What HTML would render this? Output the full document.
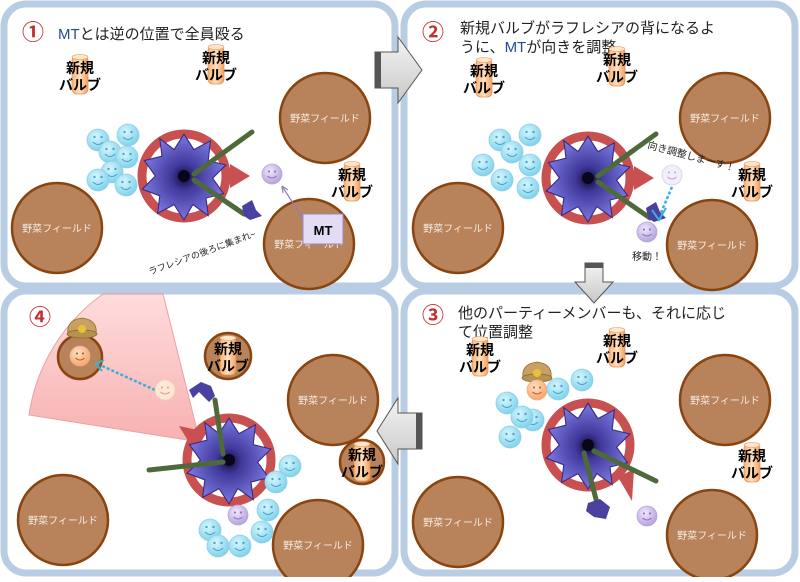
<!DOCTYPE html>
<html><head><meta charset="utf-8"><style>
html,body{margin:0;padding:0;background:#fff;}
svg text{font-family:"Liberation Sans","Noto Sans CJK JP",sans-serif;}
</style></head><body>
<svg width="800" height="577" viewBox="0 0 800 577" xmlns="http://www.w3.org/2000/svg">
<defs>
<radialGradient id="fl" cx="50%" cy="50%" r="50%"><stop offset="0" stop-color="#0c0a30"/><stop offset="0.3" stop-color="#40389a"/><stop offset="1" stop-color="#7a78e0"/></radialGradient>
<radialGradient id="bs" cx="40%" cy="35%" r="65%"><stop offset="0" stop-color="#d8f6ff"/><stop offset="1" stop-color="#7fd2ec"/></radialGradient>
<radialGradient id="ps" cx="40%" cy="35%" r="65%"><stop offset="0" stop-color="#f0e8ff"/><stop offset="1" stop-color="#b7a2dc"/></radialGradient>
<radialGradient id="os" cx="40%" cy="35%" r="65%"><stop offset="0" stop-color="#ffe2c8"/><stop offset="1" stop-color="#f7a56c"/></radialGradient>
<linearGradient id="cy" x1="0" x2="1"><stop offset="0" stop-color="#f8b47a"/><stop offset="0.5" stop-color="#ffe0c0"/><stop offset="1" stop-color="#f3a060"/></linearGradient>
<linearGradient id="ar" x1="0" y1="0" x2="0" y2="1"><stop offset="0" stop-color="#f4f4f4"/><stop offset="1" stop-color="#c8c8c8"/></linearGradient>
<linearGradient id="pk" x1="0" y1="0" x2="0" y2="1"><stop offset="0" stop-color="#ffd6d6"/><stop offset="1" stop-color="#f7a4a4"/></linearGradient>
<g id="blue"><circle r="11" fill="url(#bs)" stroke="#8fd0e6" stroke-width="0.8"/><circle cx="-3.5" cy="-3" r="1.2" fill="#4aa6c4"/><circle cx="3.5" cy="-3" r="1.2" fill="#4aa6c4"/><path d="M-5 2 Q0 7 5 2" stroke="#4aa6c4" stroke-width="1.1" fill="none"/></g>
<g id="purp"><circle r="10" fill="url(#ps)" stroke="#b8a6da" stroke-width="0.8"/><circle cx="-3" cy="-2.5" r="1.1" fill="#8a74b8"/><circle cx="3" cy="-2.5" r="1.1" fill="#8a74b8"/><path d="M-4.5 2 Q0 6 4.5 2" stroke="#8a74b8" stroke-width="1" fill="none"/></g>
<g id="lpurp"><circle r="10" fill="#f2eefa" stroke="#d8d0ea" stroke-width="0.8"/><circle cx="-3" cy="-2.5" r="1" fill="#b8a8d8"/><circle cx="3" cy="-2.5" r="1" fill="#b8a8d8"/><path d="M-4.5 2 Q0 6 4.5 2" stroke="#b8a8d8" stroke-width="1" fill="none"/></g>
<g id="orng"><circle r="10" fill="url(#os)" stroke="#f0b080" stroke-width="0.8"/><circle cx="-3" cy="-2.5" r="1.1" fill="#c0602a"/><circle cx="3" cy="-2.5" r="1.1" fill="#c0602a"/><path d="M-4.5 2 Q0 6 4.5 2" stroke="#c0602a" stroke-width="1" fill="none"/></g>
<g id="peach"><circle r="10" fill="#fde8d8" stroke="#f2cfb4" stroke-width="0.8"/><circle cx="-3" cy="-2.5" r="1" fill="#d8a080"/><circle cx="3" cy="-2.5" r="1" fill="#d8a080"/><path d="M-4.5 2 Q0 6 4.5 2" stroke="#d8a080" stroke-width="1" fill="none"/></g>
<g id="field"><circle r="45" fill="#b8825a" stroke="#8a4410" stroke-width="2.5"/><text y="4" text-anchor="middle" font-size="10" fill="#f4ece4">野菜フィールド</text></g>
<g id="bulb"><rect x="-8" y="-19" width="16" height="38" rx="5" fill="url(#cy)" stroke="#e89050" stroke-width="0.8"/><ellipse cx="0" cy="-18" rx="8" ry="2.5" fill="#ffe6cc" stroke="#e89050" stroke-width="0.6"/><text y="-2" text-anchor="middle" font-size="14" font-weight="bold" fill="#000">新規</text><text y="15" text-anchor="middle" font-size="14" font-weight="bold" fill="#000">バルブ</text></g>
<g id="flower"><polygon transform="scale(1.1)" points="0,-38 9,-24 24,-32 22,-14 38,-10 26,2 36,16 20,20 22,36 8,26 0,40 -9,26 -24,34 -22,18 -38,12 -26,0 -36,-14 -20,-18 -22,-34 -9,-24" fill="url(#fl)" stroke="#3a2a80" stroke-width="1"/><circle r="6" fill="#08061a"/></g>
<g id="shell"><path d="M-14 4 Q-16 -10 0 -12 Q16 -10 14 4 Z" fill="#c8a060" stroke="#8a6a30" stroke-width="0.8"/><ellipse cx="0" cy="4" rx="15" ry="4" fill="#b89050" stroke="#8a6a30" stroke-width="0.8"/><circle cy="-1" r="4" fill="#e8c040"/></g>
</defs>

<rect x="4" y="4" width="391" height="282" rx="22" fill="#fff" stroke="#b8cde4" stroke-width="7"/>
<rect x="404" y="4" width="391" height="282" rx="22" fill="#fff" stroke="#b8cde4" stroke-width="7"/>
<rect x="4" y="291" width="391" height="282" rx="22" fill="#fff" stroke="#b8cde4" stroke-width="7"/>
<rect x="404" y="291" width="391" height="282" rx="22" fill="#fff" stroke="#b8cde4" stroke-width="7"/>

<!-- Panel 1 -->
<text x="33" y="40" text-anchor="middle" font-size="22" font-weight="bold" fill="#c03030">①</text>
<text x="58" y="39" font-size="15" fill="#222"><tspan fill="#1f4e8c">MT</tspan>とは逆の位置で全員殴る</text>
<use href="#bulb" x="80" y="75"/>
<use href="#bulb" x="216" y="65"/>
<use href="#bulb" x="352" y="182"/>
<use href="#field" x="325" y="118"/>
<use href="#field" x="57" y="228"/>
<use href="#field" x="309" y="244"/>
<g transform="translate(184,176)">
<path d="M46 -12 L66 0 L46 12 Z" fill="#c85050"/>
<circle r="42" fill="none" stroke="#c85050" stroke-width="9"/>
<use href="#flower"/>
<path d="M10 -2 L68 -44" stroke="#4e6a3c" stroke-width="5" stroke-linecap="round"/>
<path d="M10 4 L60 38" stroke="#4e6a3c" stroke-width="5" stroke-linecap="round"/>
<polygon points="58,30 68,24 72,34 78,40 66,44 60,40" fill="#4a40a0"/>
</g>
<use href="#blue" x="98" y="140"/><use href="#blue" x="128" y="135"/><use href="#blue" x="110" y="152"/>
<use href="#blue" x="127" y="157"/><use href="#blue" x="112" y="172"/><use href="#blue" x="98" y="180"/><use href="#blue" x="126" y="185"/>
<use href="#purp" x="272" y="174"/>
<line x1="305" y1="222" x2="282" y2="186" stroke="#9080b8" stroke-width="1.2"/>
<path d="M282 186 L283 193 M282 186 L288 190" stroke="#9080b8" stroke-width="1.2"/>
<rect x="303" y="214" width="40" height="30" fill="#e4dcf4" stroke="#9a88c4" stroke-width="1"/>
<text x="323" y="235" text-anchor="middle" font-size="13" font-weight="bold" fill="#000">MT</text>
<text x="150" y="275" font-size="9" fill="#222" transform="rotate(-20 150 275)">ラフレシアの後ろに集まれ~</text>

<!-- Panel 2 -->
<text x="433" y="40" text-anchor="middle" font-size="22" font-weight="bold" fill="#c03030">②</text>
<text x="460" y="33" font-size="15" fill="#222">新規バルブがラフレシアの背になるよ</text>
<text x="460" y="52" font-size="15" fill="#222">うに、<tspan fill="#1f4e8c">MT</tspan>が向きを調整</text>
<use href="#bulb" x="484" y="78"/>
<use href="#bulb" x="617" y="67"/>
<use href="#bulb" x="752" y="182"/>
<use href="#field" x="725" y="118"/>
<use href="#field" x="458" y="228"/>
<use href="#field" x="712" y="245"/>
<g transform="translate(588,178)">
<path d="M46 -12 L66 0 L46 12 Z" fill="#c85050"/>
<circle r="42" fill="none" stroke="#c85050" stroke-width="9"/>
<use href="#flower"/>
<path d="M10 -2 L68 -44" stroke="#4e6a3c" stroke-width="5" stroke-linecap="round"/>
<path d="M10 4 L62 40" stroke="#4e6a3c" stroke-width="5" stroke-linecap="round"/>
<polygon points="58,30 68,24 72,34 78,40 66,44 60,40" fill="#4a40a0"/>
</g>
<use href="#blue" x="500" y="140"/><use href="#blue" x="530" y="135"/><use href="#blue" x="512" y="152"/>
<use href="#blue" x="530" y="165"/><use href="#blue" x="483" y="165"/><use href="#blue" x="502" y="180"/><use href="#blue" x="528" y="188"/>
<use href="#lpurp" x="672" y="175"/>
<line x1="672" y1="187" x2="660" y2="215" stroke="#3ab0d8" stroke-width="2.5" stroke-dasharray="3,2"/>
<path d="M652 210 L659 220 L666 208" stroke="#3ab0d8" stroke-width="2" fill="none"/>
<use href="#purp" x="647" y="232"/>
<text x="632" y="260" font-size="10" fill="#222">移動！</text>
<text x="647" y="148" font-size="10" fill="#222" transform="rotate(15 647 148)">向き調整しまーす！</text>

<!-- arrows -->
<polygon points="375,52 398,52 398,37 422,70 398,103 398,88 375,88" fill="url(#ar)" stroke="#555" stroke-width="1"/>
<rect x="375" y="52" width="6" height="36" fill="#555"/>
<polygon points="585,263 603,263 603,282 613,282 594,303 575,282 585,282" fill="url(#ar)" stroke="#555" stroke-width="1"/>
<rect x="585" y="263" width="18" height="5" fill="#555"/>
<polygon points="422,413 398,413 398,398 377,431 398,464 398,449 422,449" fill="url(#ar)" stroke="#555" stroke-width="1"/>
<rect x="416" y="413" width="6" height="36" fill="#555"/>

<!-- Panel 3 -->
<text x="433" y="323" text-anchor="middle" font-size="22" font-weight="bold" fill="#c03030">③</text>
<text x="458" y="318" font-size="15" fill="#222">他のパーティーメンバーも、それに応じ</text>
<text x="458" y="337" font-size="15" fill="#222">て位置調整</text>
<use href="#bulb" x="480" y="357"/>
<use href="#bulb" x="617" y="348"/>
<use href="#bulb" x="752" y="463"/>
<use href="#field" x="725" y="400"/>
<use href="#field" x="458" y="522"/>
<use href="#field" x="712" y="535"/>
<g transform="translate(588,445)">
<path d="M30 32 L44 56 L46 24 Z" fill="#c85050"/>
<circle r="42" fill="none" stroke="#c85050" stroke-width="9"/>
<use href="#flower"/>
<path d="M6 6 L68 36" stroke="#4e6a3c" stroke-width="5" stroke-linecap="round"/>
<path d="M-4 8 L10 62" stroke="#4e6a3c" stroke-width="5" stroke-linecap="round"/>
<polygon points="0,58 12,54 22,62 18,74 6,72 -2,66" fill="#4a40a0"/>
</g>
<use href="#shell" x="537" y="374"/>
<use href="#orng" x="537" y="390"/>
<use href="#blue" x="558" y="389"/><use href="#blue" x="582" y="380"/>
<use href="#blue" x="507" y="403"/><use href="#blue" x="533" y="420"/><use href="#blue" x="522" y="417"/><use href="#blue" x="510" y="437"/>
<use href="#purp" x="647" y="516"/>

<!-- Panel 4 -->
<path d="M200 442 L29 415 A180 180 0 0 1 103 294 L163 294 Z" fill="url(#pk)" stroke="#e89090" stroke-width="1" opacity="0.85"/>
<text x="40" y="325" text-anchor="middle" font-size="22" font-weight="bold" fill="#c03030">④</text>
<circle cx="80" cy="357" r="22" fill="#b8825a" stroke="#8a4410" stroke-width="2.5"/>
<use href="#shell" x="82" y="330"/>
<use href="#orng" x="80" y="356"/>
<line x1="155" y1="390" x2="100" y2="365" stroke="#3ab0d8" stroke-width="2.5" stroke-dasharray="3,2"/>
<path d="M104 360 L96 364 L102 371" stroke="#3ab0d8" stroke-width="2" fill="none"/>
<use href="#peach" x="165" y="390"/>
<circle cx="228" cy="356" r="23" fill="#b8825a" stroke="#8a4410" stroke-width="2.5"/>
<use href="#bulb" x="228" y="356"/>
<use href="#field" x="333" y="400"/>
<circle cx="362" cy="462" r="22" fill="#b8825a" stroke="#8a4410" stroke-width="2.5"/>
<use href="#bulb" x="362" y="462"/>
<use href="#field" x="63" y="520"/>
<use href="#field" x="318" y="545"/>
<g transform="translate(229,460)">
<path d="M-50 -34 L-22 -28 L-34 -8 Z" fill="#c85050"/>
<circle r="42" fill="none" stroke="#c85050" stroke-width="9"/>
<use href="#flower"/>
<path d="M-6 -6 L-14 -60" stroke="#4e6a3c" stroke-width="5" stroke-linecap="round"/>
<path d="M-6 2 L-80 10" stroke="#4e6a3c" stroke-width="5" stroke-linecap="round"/>
<polygon points="-20,-58 -30,-68 -36,-62 -40,-70 -28,-78 -18,-74 -14,-64" fill="#4a40a0"/>
</g>
<use href="#blue" x="290" y="466"/><use href="#blue" x="276" y="482"/><use href="#blue" x="268" y="510"/>
<use href="#blue" x="262" y="532"/><use href="#blue" x="210" y="530"/><use href="#blue" x="218" y="546"/><use href="#blue" x="240" y="546"/>
<use href="#purp" x="238" y="515"/>
</svg>
</body></html>
